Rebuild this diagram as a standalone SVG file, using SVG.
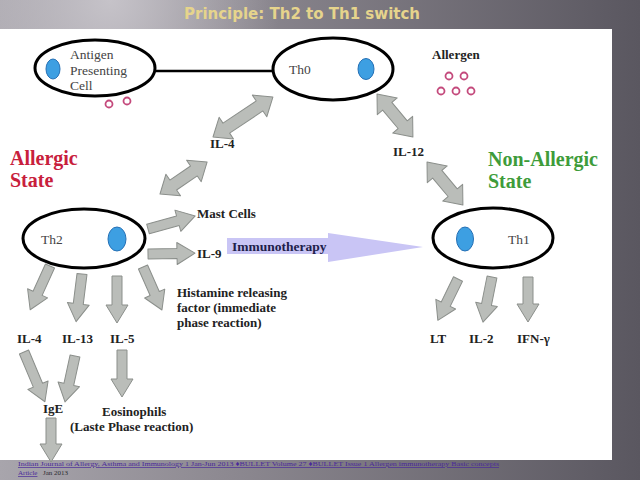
<svg xmlns="http://www.w3.org/2000/svg" width="640" height="480" viewBox="0 0 640 480">
<defs>
<linearGradient id="bg" x1="0" y1="0" x2="1" y2="0">
<stop offset="0" stop-color="#a8a5ac"/>
<stop offset="0.35" stop-color="#8d8991"/>
<stop offset="1" stop-color="#5a5760"/>
</linearGradient>
<radialGradient id="glow" cx="110" cy="0" r="170" gradientUnits="userSpaceOnUse">
<stop offset="0" stop-color="#c8c5cb" stop-opacity="0.95"/>
<stop offset="1" stop-color="#c8c5cb" stop-opacity="0"/>
</radialGradient>
<style>
.ba{fill:#babdb9;stroke:#8b8f8b;stroke-width:1;stroke-linejoin:round}
.cell{fill:#fff;stroke:#000;stroke-width:3}
.nuc{fill:#3d9fe2;stroke:#2570b5;stroke-width:1}
.lbl{font-family:'Liberation Serif',serif;font-weight:bold;font-size:13px;fill:#222}
.reg{font-family:'Liberation Serif',serif;font-size:13.5px;fill:#444}
.st{font-family:'Liberation Serif',serif;font-weight:bold;font-size:20px}
.ag{fill:none;stroke:#c44a7c;stroke-width:1.8}
.cite{font-family:'Liberation Serif',serif;font-size:7px}
</style>
</defs>
<rect x="0" y="0" width="640" height="480" fill="url(#bg)"/>
<rect x="0" y="0" width="640" height="480" fill="url(#glow)"/>
<rect x="0" y="29" width="612" height="431" fill="#fff"/>
<text x="302" y="19" text-anchor="middle" font-family="DejaVu Sans, sans-serif" font-weight="bold" font-size="15" fill="#e6d48c">Principle: Th2 to Th1 switch</text>

<g id="connectors">
<line x1="155" y1="71" x2="275" y2="71" stroke="#000" stroke-width="2.5"/>
<polygon class="ba" transform="translate(213,137) rotate(-33.7)" points="0,0 16,-13 16,-6 56,-6 56,-13 72,0 56,13 56,6 16,6 16,13"/>
<polygon class="ba" transform="translate(160,194) rotate(-34.2)" points="0,0 16,-13 16,-6 41,-6 41,-13 57,0 41,13 41,6 16,6 16,13"/>
<polygon class="ba" transform="translate(377,94) rotate(50.1)" points="0,0 16,-13 16,-6 40,-6 40,-13 56,0 40,13 40,6 16,6 16,13"/>
<polygon class="ba" transform="translate(427,162) rotate(50.1)" points="0,0 16,-13 16,-6 40,-6 40,-13 56,0 40,13 40,6 16,6 16,13"/>
<polygon class="ba" transform="translate(148,229) rotate(-15.5)" points="0,-5 31,-5 31,-11 49,0 31,11 31,5 0,5"/>
<polygon class="ba" transform="translate(148,254) rotate(-1)" points="0,-5 29,-5 29,-11 47,0 29,11 29,5 0,5"/>
<polygon class="ba" transform="translate(50,266) rotate(114.4)" points="0,-5 30,-5 30,-11 48,0 30,11 30,5 0,5"/>
<polygon class="ba" transform="translate(82,274) rotate(97.1)" points="0,-5 30,-5 30,-11 48,0 30,11 30,5 0,5"/>
<polygon class="ba" transform="translate(117,276) rotate(90)" points="0,-5 29,-5 29,-11 47,0 29,11 29,5 0,5"/>
<polygon class="ba" transform="translate(143,267) rotate(66.2)" points="0,-5 29,-5 29,-11 47,0 29,11 29,5 0,5"/>
<polygon class="ba" transform="translate(24,352) rotate(67.2)" points="0,-5 36,-5 36,-11 54,0 36,11 36,5 0,5"/>
<polygon class="ba" transform="translate(75,356) rotate(102.3)" points="0,-5 29,-5 29,-11 47,0 29,11 29,5 0,5"/>
<polygon class="ba" transform="translate(122,350) rotate(90)" points="0,-5 29,-5 29,-11 47,0 29,11 29,5 0,5"/>
<polygon class="ba" transform="translate(51,418) rotate(90)" points="0,-5 26,-5 26,-11 44,0 26,11 26,5 0,5"/>
<polygon class="ba" transform="translate(458,279) rotate(116)" points="0,-5 28,-5 28,-11 46,0 28,11 28,5 0,5"/>
<polygon class="ba" transform="translate(492,277) rotate(101.3)" points="0,-5 28,-5 28,-11 46,0 28,11 28,5 0,5"/>
<polygon class="ba" transform="translate(528,277) rotate(90)" points="0,-5 27,-5 27,-11 45,0 27,11 27,5 0,5"/>
</g>

<g id="apc">
<ellipse class="cell" cx="95" cy="68" rx="60" ry="28"/>
<ellipse class="nuc" cx="53" cy="69" rx="7" ry="10"/>
<text class="reg" x="70" y="59">Antigen</text>
<text class="reg" x="70" y="75">Presenting</text>
<text class="reg" x="70" y="90">Cell</text>
<circle class="ag" cx="109" cy="104" r="3.5"/>
<circle class="ag" cx="127" cy="101" r="3.5"/>
</g>

<g id="th0">
<ellipse class="cell" cx="333" cy="69" rx="60" ry="31"/>
<ellipse class="nuc" cx="366" cy="69" rx="8" ry="10.5"/>
<text class="reg" x="289" y="74">Th0</text>
</g>

<g id="allergen">
<text class="lbl" x="432" y="59">Allergen</text>
<circle class="ag" cx="449" cy="76" r="3.5"/>
<circle class="ag" cx="464" cy="76" r="3.5"/>
<circle class="ag" cx="441" cy="91" r="3.5"/>
<circle class="ag" cx="456" cy="91" r="3.5"/>
<circle class="ag" cx="471" cy="91" r="3.5"/>
</g>

<g id="states">
<text class="st" x="10" y="165" fill="#c8203c">Allergic</text>
<text class="st" x="10" y="187" fill="#c8203c">State</text>
<text class="st" x="488" y="166" fill="#3e9c3a">Non-Allergic</text>
<text class="st" x="488" y="188" fill="#3e9c3a">State</text>
</g>

<g id="th2">
<ellipse class="cell" cx="84" cy="238.5" rx="61" ry="29.5"/>
<ellipse class="nuc" cx="117" cy="239" rx="9" ry="12"/>
<text class="reg" x="41" y="244">Th2</text>
</g>

<g id="th1">
<ellipse class="cell" cx="493" cy="238" rx="60" ry="30"/>
<ellipse class="nuc" cx="465" cy="239" rx="8.5" ry="12"/>
<text class="reg" x="508" y="244">Th1</text>
</g>

<g id="immunotherapy">
<rect x="227" y="238" width="101" height="16" fill="#c9c5f5"/>
<polygon points="328,233 328,262 423,247" fill="#c9c5f5"/>
<text x="232" y="251" font-family="'Liberation Serif', serif" font-weight="bold" font-size="13.5" fill="#20204a">Immunotherapy</text>
</g>

<g id="labels">
<text class="lbl" x="210" y="148">IL-4</text>
<text class="lbl" x="393" y="156">IL-12</text>
<text class="lbl" x="197" y="218">Mast Cells</text>
<text class="lbl" x="197" y="258">IL-9</text>
<text class="lbl" x="177" y="297">Histamine releasing</text>
<text class="lbl" x="177" y="312">factor (immediate</text>
<text class="lbl" x="177" y="327">phase reaction)</text>
<text class="lbl" x="17" y="343">IL-4</text>
<text class="lbl" x="62" y="343">IL-13</text>
<text class="lbl" x="110" y="343">IL-5</text>
<text class="lbl" x="43" y="413">IgE</text>
<text class="lbl" x="102" y="416">Eosinophils</text>
<text class="lbl" x="70" y="431">(Laste Phase reaction)</text>
<text class="lbl" x="430" y="343">LT</text>
<text class="lbl" x="469" y="343">IL-2</text>
<text class="lbl" x="517" y="343">IFN-γ</text>
</g>

<g id="citation">
<text class="cite" x="18" y="466" fill="#4a2a9a" text-decoration="underline" textLength="481" lengthAdjust="spacingAndGlyphs">Indian Journal of Allergy, Asthma and Immunology 1 Jan-Jun 2013 ♦BULLET Volume 27 ♦BULLET Issue 1 Allergen immunotherapy Basic concepts</text>
<text class="cite" x="18" y="475" fill="#4a2a9a" text-decoration="underline">Article</text>
<text class="cite" x="43" y="475" fill="#2a2a30">Jan 2013</text>
</g>
</svg>
